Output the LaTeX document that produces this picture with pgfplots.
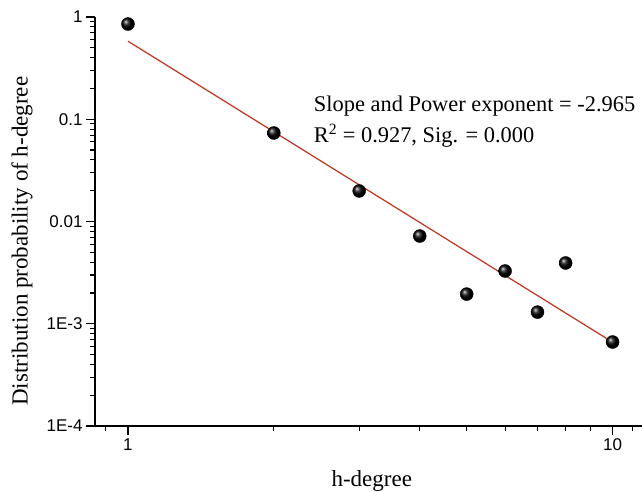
\documentclass[border=0pt]{standalone}
\usepackage{pgfplots}
\pgfplotsset{compat=1.18}
\usepackage{fontspec}
\setmainfont{Liberation Serif}
\newfontfamily\arial{Liberation Sans}
\definecolor{fitred}{RGB}{190,50,30}

\begin{document}
\begin{tikzpicture}
\begin{axis}[
    at={(0,0)}, anchor=south west,
    scale only axis,
    width=547pt, height=409pt,
    xmode=log, ymode=log,
    xmin=0.855, xmax=11.5,
    ymin=1e-4, ymax=1,
    axis lines*=left,
    axis line style={line width=1.2pt},
    tick align=outside,
    tick style={line width=1.1pt, black},
    major tick length=9pt,
    minor tick length=5pt,
    xtick={1,10}, xticklabels={1,10},
    minor xtick={0.9,2,3,4,5,6,7,8,9,11},
    ytick={1e-4,1e-3,0.01,0.1,1},
    yticklabels={1E-4,1E-3,0.01,0.1,1},
    minor ytick={2e-4,3e-4,4e-4,5e-4,6e-4,7e-4,8e-4,9e-4,
                 2e-3,3e-3,4e-3,5e-3,6e-3,7e-3,8e-3,9e-3,
                 0.02,0.03,0.04,0.05,0.06,0.07,0.08,0.09,
                 0.2,0.3,0.4,0.5,0.6,0.7,0.8,0.9},
    ticklabel style={font=\arial\fontsize{17}{19}\selectfont},
    xlabel={h-degree},
    ylabel={Distribution probability of h-degree},
    label style={font=\fontsize{23}{26}\selectfont},
    xlabel style={at={(axis description cs:0.506,-0.147)}, anchor=base},
    ylabel style={at={(axis description cs:-0.1335,0.452)}, anchor=center},
    clip=false,
]

% fitted power law
\addplot[fitred, line width=1.2pt] coordinates {
(1,0.58)
(10,0.00066)
};

% observed distribution
\addplot[only marks, mark=ball, mark size=6.5pt, mark options={ball color=black}] coordinates {
(1,0.854)
(2,0.0734)
(3,0.0199)
(4,0.00721)
(5,0.00195)
(6,0.00328)
(7,0.0013)
(8,0.00393)
(10,0.000663)
};

\node[anchor=base west, inner sep=0pt, font=\fontsize{22.4}{25}\selectfont] at (rel axis cs:0.400,0.768) {Slope and Power exponent = -2.965};
\node[anchor=base west, inner sep=0pt, font=\fontsize{22.4}{25}\selectfont] at (rel axis cs:0.400,0.694) {R\textsuperscript{2} = 0.927, Sig. = 0.000};
\end{axis}
\pgfresetboundingbox
\path[use as bounding box] (-95pt,-66pt) rectangle (547pt,426pt);
\end{tikzpicture}
\end{document}
